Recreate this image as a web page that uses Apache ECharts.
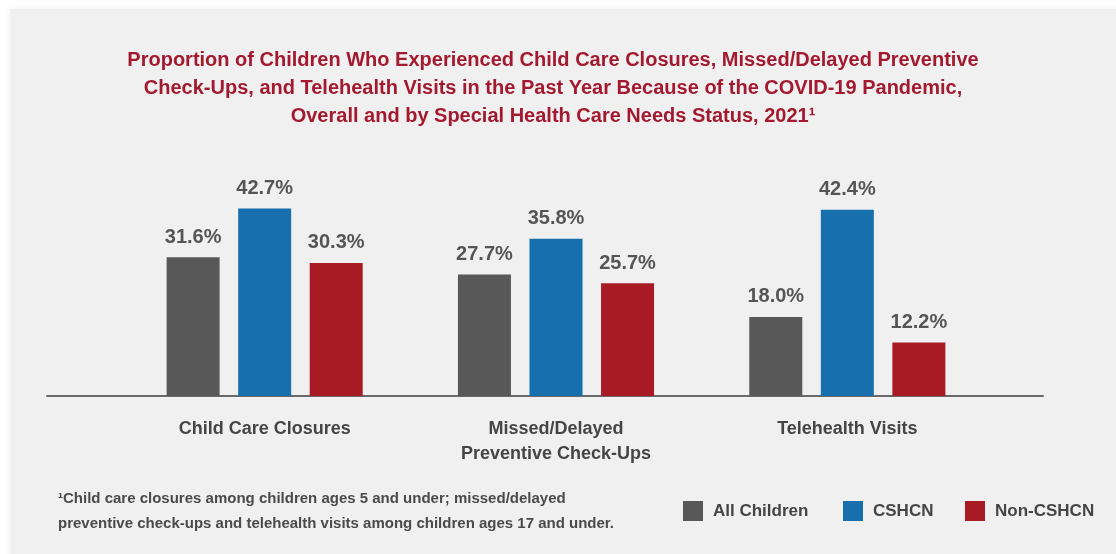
<!DOCTYPE html>
<html>
<head>
<meta charset="utf-8">
<style>
  html, body { margin: 0; padding: 0; background: #ffffff; }
  #chart { width: 1116px; height: 554px; }
</style>
<script src="https://cdn.jsdelivr.net/npm/echarts@6/dist/echarts.min.js"></script>
</head>
<body>
<div id="chart"></div>
<script>
// Measures shown along the horizontal axis
const categories = [
  'Child Care Closures',
  'Missed/Delayed\nPreventive Check-Ups',
  'Telehealth Visits'
];

// Percent of children, by group
const allChildren = [31.6, 27.7, 18.0];
const cshcn = [42.7, 35.8, 42.4];
const nonCshcn = [30.3, 25.7, 12.2];

const seriesNames = ['All Children', 'CSHCN', 'Non-CSHCN'];
const seriesColors = ['#585858', '#176fad', '#a91b24'];

const titleText = 'Proportion of Children Who Experienced Child Care Closures, Missed/Delayed Preventive\n' +
  'Check-Ups, and Telehealth Visits in the Past Year Because of the COVID-19 Pandemic,\n' +
  'Overall and by Special Health Care Needs Status, 2021\u00B9';

const footnoteText = '\u00B9Child care closures among children ages 5 and under; missed/delayed\n' +
  'preventive check-ups and telehealth visits among children ages 17 and under.';

const FONT = '"Liberation Sans", Arial, sans-serif';

const chart = echarts.init(document.getElementById('chart'), null, { renderer: 'canvas' });

const makeSeries = (name, data, color) => ({
  name: name,
  type: 'bar',
  xAxisIndex: 0,
  yAxisIndex: 0,
  data: data,
  barWidth: 53,
  barGap: '35%',
  itemStyle: { color: color },
  label: {
    show: true,
    position: 'top',
    distance: 10,
    formatter: p => p.value.toFixed(1) + '%',
    fontFamily: FONT,
    fontWeight: 'bold',
    fontSize: 20,
    color: '#555555'
  }
});

// One legend per group so each key sits at its own spot
const legendLefts = [683, 843, 965];
const legends = seriesNames.map((name, i) => ({
  data: [name],
  left: legendLefts[i],
  top: 501,
  padding: 0,
  itemWidth: 20,
  itemHeight: 20,
  icon: 'rect',
  selectedMode: false,
  textStyle: {
    fontFamily: FONT,
    fontWeight: 'bold',
    fontSize: 17,
    color: '#454545',
    padding: [0, 0, 0, 5]
  }
}));

chart.setOption({
  backgroundColor: '#ffffff',
  animation: false,
  graphic: [
    {
      type: 'rect',
      z: -10,
      shape: { x: 10, y: 9, width: 1110, height: 550 },
      style: { fill: '#f0f0f0', shadowBlur: 8, shadowColor: 'rgba(0,0,0,0.06)' }
    },
    {
      type: 'text',
      left: 58,
      top: 486,
      style: {
        text: footnoteText,
        font: 'bold 15px ' + FONT,
        fill: '#4a4a4a',
        lineHeight: 25
      }
    }
  ],
  title: {
    text: titleText,
    left: 548,
    top: 41,
    textAlign: 'center',
    textStyle: {
      fontFamily: FONT,
      fontWeight: 'bold',
      fontSize: 20,
      lineHeight: 28,
      color: '#a3192f'
    }
  },
  legend: legends,
  grid: [
    { left: 119, right: 123, top: 176.5, bottom: 158 },
    { left: 47, right: 73, top: 176.5, bottom: 158 }
  ],
  xAxis: [
    {
      type: 'category',
      gridIndex: 0,
      data: categories,
      axisLine: { show: false },
      axisTick: { show: false },
      axisLabel: {
        margin: 21,
        fontFamily: FONT,
        fontWeight: 'bold',
        fontSize: 18,
        lineHeight: 25,
        color: '#454545'
      }
    },
    {
      type: 'category',
      gridIndex: 1,
      data: [''],
      axisLine: { show: true, lineStyle: { color: '#6a6a6a', width: 2 } },
      axisTick: { show: false },
      axisLabel: { show: false }
    }
  ],
  yAxis: [
    {
      type: 'value',
      gridIndex: 0,
      min: 0,
      max: 50,
      show: false,
      splitLine: { show: false }
    },
    {
      type: 'value',
      gridIndex: 1,
      min: 0,
      max: 50,
      show: false,
      splitLine: { show: false }
    }
  ],
  series: [
    makeSeries(seriesNames[0], allChildren, seriesColors[0]),
    makeSeries(seriesNames[1], cshcn, seriesColors[1]),
    makeSeries(seriesNames[2], nonCshcn, seriesColors[2])
  ]
});
</script>
</body>
</html>
